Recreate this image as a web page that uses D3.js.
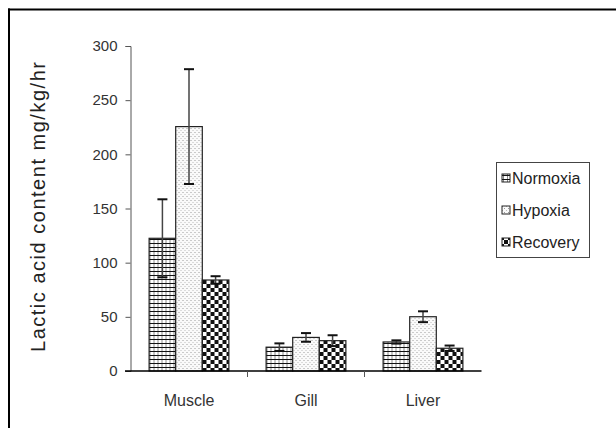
<!DOCTYPE html>
<html><head><meta charset="utf-8">
<script src="https://cdn.jsdelivr.net/npm/d3@7"></script>
<style>body{margin:0;background:#fff}svg{display:block}text{font-family:"Liberation Sans",Arial,sans-serif}</style>
</head><body><svg id="c" width="616" height="428"></svg>
<script>
const categories = ["Muscle", "Gill", "Liver"];
const seriesNames = ["Normoxia", "Hypoxia", "Recovery"];
const normoxia = [122.5, 22, 26.8];
const hypoxia = [225.6, 31, 50.1];
const recovery = [84, 28, 21];
const normoxiaErr = [36, 3.5, 1.5];
const hypoxiaErr = [53, 4, 5];
const recoveryErr = [3.5, 5, 2.5];
const yTicks = [0, 50, 100, 150, 200, 250, 300];
const yLabel = "Lactic acid content mg/kg/hr";

const values = [normoxia, hypoxia, recovery];
const errs = [normoxiaErr, hypoxiaErr, recoveryErr];
const svg = d3.select("#c");
const defs = svg.append("defs");

// patterns
const p0 = defs.append("pattern").attr("id","pat0").attr("patternUnits","userSpaceOnUse").attr("width",4).attr("height",4);
p0.append("rect").attr("width",4).attr("height",4).attr("fill","#fff");
p0.append("rect").attr("x",3).attr("y",0).attr("width",1).attr("height",4).attr("fill","#888");
p0.append("rect").attr("x",0).attr("y",3).attr("width",4).attr("height",1.2).attr("fill","#111");
const p1 = defs.append("pattern").attr("id","pat1").attr("patternUnits","userSpaceOnUse").attr("width",4).attr("height",4);
p1.append("rect").attr("width",4).attr("height",4).attr("fill","#fafafa");
p1.append("rect").attr("x",0).attr("y",0).attr("width",1).attr("height",1).attr("fill","#999");
p1.append("rect").attr("x",2).attr("y",2).attr("width",1).attr("height",1).attr("fill","#bbb");
const p2 = defs.append("pattern").attr("id","pat2").attr("patternUnits","userSpaceOnUse").attr("width",8).attr("height",8);
p2.append("rect").attr("width",8).attr("height",8).attr("fill","#fff");
p2.append("rect").attr("x",0).attr("y",0).attr("width",4).attr("height",4).attr("fill","#111");
p2.append("rect").attr("x",4).attr("y",4).attr("width",4).attr("height",4).attr("fill","#111");
const fills = ["url(#pat0)","url(#pat1)","url(#pat2)"];

// frame
svg.append("line").attr("x1",8).attr("x2",616).attr("y1",9.5).attr("y2",9.5).attr("stroke","#000").attr("stroke-width",2);
svg.append("line").attr("x1",9).attr("x2",9).attr("y1",8.5).attr("y2",428).attr("stroke","#000").attr("stroke-width",2);

const x0 = d3.scaleBand().domain(categories).range([130.5, 481.5]).paddingInner(0).paddingOuter(0);
const x1 = d3.scaleBand().domain(seriesNames).range([0, x0.bandwidth()]).paddingInner(0).paddingOuter(0.7);
const y = d3.scaleLinear().domain([0, 300]).range([371, 46]);

// y axis
const yAxis = svg.append("g").attr("transform","translate(130.5,0)")
  .call(d3.axisLeft(y).tickValues(yTicks).tickSize(5).tickPadding(8));
yAxis.select(".domain").attr("stroke","#555");
yAxis.selectAll(".tick line").attr("stroke","#555");
yAxis.selectAll("text").attr("font-size",15).attr("fill","#333").attr("font-family","Liberation Sans, Arial, sans-serif");

// bars
const groups = svg.append("g").selectAll("g").data(categories).join("g")
  .attr("transform", d => `translate(${x0(d)},0)`);
seriesNames.forEach((s, si) => {
  groups.append("rect")
    .attr("x", x1(s)).attr("width", x1.bandwidth())
    .attr("y", (d,i) => y(values[si][i])).attr("height", (d,i) => y(0) - y(values[si][i]))
    .attr("fill", fills[si]).attr("stroke","#222").attr("stroke-width",1.2);
});
// error bars
seriesNames.forEach((s, si) => {
  const cx = x1(s) + x1.bandwidth()/2;
  groups.append("line").attr("x1",cx).attr("x2",cx)
    .attr("y1",(d,i)=>y(values[si][i]+errs[si][i])).attr("y2",(d,i)=>y(values[si][i]-errs[si][i]))
    .attr("stroke","#444").attr("stroke-width",1.5);
  [1,-1].forEach(sg => {
    groups.append("line").attr("x1",cx-5).attr("x2",cx+5)
      .attr("y1",(d,i)=>y(values[si][i]+sg*errs[si][i])).attr("y2",(d,i)=>y(values[si][i]+sg*errs[si][i]))
      .attr("stroke","#111").attr("stroke-width",2);
  });
});

// x axis
const xAxis = svg.append("g").attr("transform","translate(0,371)");
xAxis.append("line").attr("x1",125).attr("x2",x0.range()[1]).attr("y1",0).attr("y2",0).attr("stroke","#000").attr("stroke-width",1.5);
xAxis.selectAll("line.t").data(categories.slice(1)).join("line").attr("class","t")
  .attr("x1",d=>x0(d)).attr("x2",d=>x0(d)).attr("y1",0).attr("y2",6).attr("stroke","#555");
xAxis.selectAll("text").data(categories).join("text")
  .attr("x",d=>x0(d)+x0.bandwidth()/2).attr("y",35).attr("text-anchor","middle")
  .attr("font-size",16).attr("fill","#333").text(d=>d);

// y label
svg.append("text").attr("transform","translate(45,207) rotate(-90)").attr("text-anchor","middle")
  .attr("font-size",20).attr("fill","#222").attr("textLength",290).attr("lengthAdjust","spacing").text(yLabel);

// legend
const lg = svg.append("g");
lg.append("rect").attr("x",496.5).attr("y",162.5).attr("width",93).attr("height",95).attr("fill","#fff").attr("stroke","#444");
seriesNames.forEach((s, si) => {
  const cy = 178 + si*32;
  lg.append("rect").attr("x",502).attr("y",cy-4).attr("width",8).attr("height",8).attr("fill",fills[si]).attr("stroke","#222");
  lg.append("text").attr("x",512).attr("y",cy+5.5).attr("font-size",16).attr("fill","#222").text(s);
});
</script></body></html>
